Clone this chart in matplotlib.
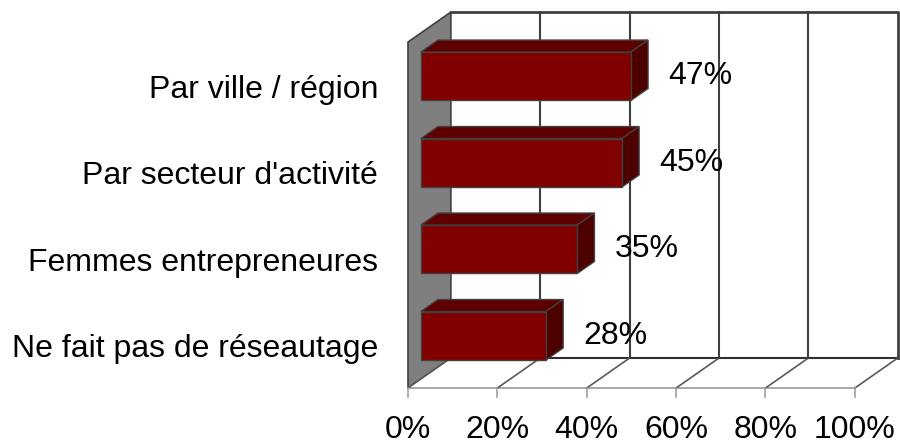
import matplotlib.pyplot as plt
from matplotlib.patches import Polygon

# données du graphique
categories = ["Ne fait pas de réseautage", "Femmes entrepreneures",
              "Par secteur d'activité", "Par ville / région"]
values = [28, 35, 45, 47]
ticks = [0, 20, 40, 60, 80, 100]
tick_labels = ["0%", "20%", "40%", "60%", "80%", "100%"]

# décalage de profondeur (effet 3D) : x en %, y en unités de catégorie
DX, DY = 9.6, 0.347
BAR_H = 0.56
FRONT, BACK = 0.3, 0.7

FACE = "#800000"
TOP = "#5e0000"
SIDE = "#4c0000"
EDGE = "#404040"
FS = 23


def poly(ax, pts, fc, ec=EDGE, lw=1.0, z=1):
    ax.add_patch(Polygon(pts, closed=True, facecolor=fc, edgecolor=ec,
                         linewidth=lw, zorder=z, joinstyle="miter"))


def main():
    plt.rcParams['font.family'] = ['Liberation Sans', 'DejaVu Sans']
    fig = plt.figure(figsize=(9, 4.47), dpi=100)
    ax = fig.add_axes([0, 0, 1, 1])
    ax.set_xlim(-91.3, 110.1)
    ax.set_ylim(-1.182, 3.986)
    ax.axis("off")

    y0, y1 = -0.5, len(categories) - 0.5

    # paroi gauche grise
    poly(ax, [(0, y0), (0, y1), (DX, y1 + DY), (DX, y0 + DY)], "#7f7f7f", lw=1.2)
    # sol
    poly(ax, [(0, y0), (100, y0), (100 + DX, y0 + DY), (DX, y0 + DY)], "white",
         ec="none")
    ax.plot([0, 100], [y0, y0], color="#a0a0a0", lw=1.3, zorder=2)
    ax.plot([DX, 100 + DX], [y0 + DY, y0 + DY], color="#303030", lw=1.5, zorder=2)
    for t in ticks:
        ax.plot([t, t + DX], [y0, y0 + DY], color="#595959", lw=1.2, zorder=2)
        ax.plot([t, t], [y0, y0 - 0.1], color="#a0a0a0", lw=1.2, zorder=2)
    # paroi du fond + quadrillage
    ax.plot([DX, 100 + DX, 100 + DX], [y1 + DY, y1 + DY, y0 + DY],
            color="#404040", lw=2, zorder=2)
    for t in ticks[1:-1]:
        ax.plot([t + DX, t + DX], [y0 + DY, y1 + DY], color="#404040",
                lw=1.5, zorder=2)

    # barres 3D
    for i, v in enumerate(values):
        xf, yf = FRONT * DX, i + FRONT * DY
        xb, yb = BACK * DX - FRONT * DX, BACK * DY - FRONT * DY
        lo, hi = yf - BAR_H / 2, yf + BAR_H / 2
        poly(ax, [(xf, hi), (xf + v, hi), (xf + v + xb, hi + yb), (xf + xb, hi + yb)],
             TOP, z=3)
        poly(ax, [(xf + v, lo), (xf + v + xb, lo + yb), (xf + v + xb, hi + yb),
                  (xf + v, hi)], SIDE, z=3)
        poly(ax, [(xf, lo), (xf + v, lo), (xf + v, hi), (xf, hi)], FACE, z=3)
        ax.text(v + 18.5, yf, f"{v}%", ha="center", va="center",
                fontsize=FS, zorder=5)

    for i, c in enumerate(categories):
        ax.text(-6.7, i - 0.05, c, ha="right", va="center", fontsize=FS)

    for t, lab in zip(ticks, tick_labels):
        ax.text(t, -0.98, lab, ha="center", va="center", fontsize=FS)

    fig.savefig("out.png", dpi=100)


if __name__ == "__main__":
    main()
